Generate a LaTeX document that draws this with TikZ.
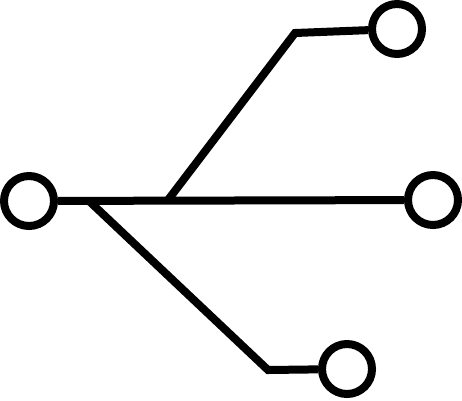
\documentclass[tikz,border=0pt]{standalone}
\begin{document}
\begin{tikzpicture}[x=1pt, y=-1pt, port/.style={circle, draw, line width=8pt, inner sep=0pt, minimum size=50pt}]
  \useasboundingbox (0, 0) rectangle (462, 400);
  % Nodes
  \node (L) [port] at (29, 201) {};
  \node (R) [port] at (433, 200) {};
  \node (T) [port] at (397, 29) {};
  \node (B) [port] at (347, 369) {};
  % Branch points
  \coordinate (ju) at (168, 200);
  \coordinate (cu) at (295, 33);
  \coordinate (jl) at (88, 200);
  \coordinate (cl) at (268, 370);
  % Lines
  \draw[line width=8pt] (L) -- (R);
  \draw[line width=8pt] (ju) -- (cu) -- (T);
  \draw[line width=8pt] (jl) -- (cl) -- (B);
\end{tikzpicture}
\end{document}
